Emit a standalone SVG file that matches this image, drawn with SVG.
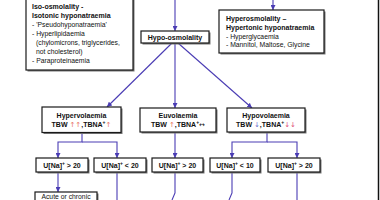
<svg xmlns="http://www.w3.org/2000/svg" width="380" height="200" viewBox="0 0 380 200">
<defs>
<marker id="ah" viewBox="0 0 10 10" refX="10" refY="5" markerWidth="5" markerHeight="5" orient="auto" markerUnits="userSpaceOnUse"><path d="M0,0 L10,5 L0,10 z" fill="#4a3cb4"/></marker>
</defs>
<style>
.box{fill:#fff;stroke:#1a1a1a;stroke-width:1.2}
.sh{fill:#777}
.b{font-family:"Liberation Sans",Arial,sans-serif;font-size:7px;font-weight:bold;fill:#111}
.r{font-family:"Liberation Sans",Arial,sans-serif;font-size:6.8px;fill:#111}
.m{text-anchor:middle}
.c{stroke:#4a3cb4;stroke-width:1.1;fill:none}
.ar{font-family:"DejaVu Sans",sans-serif;font-weight:normal;font-size:7px}
.up{fill:#e8705a}
.dn{fill:#6a72d0}
.dd{fill:#e0507a}
.sup{font-size:5px}
</style>
<rect width="380" height="200" fill="#fff"/>
<line x1="378.5" y1="0" x2="378.5" y2="200" stroke="#111" stroke-width="1.5"/>

<g id="connectors">
<path class="c" d="M175,0 V31" marker-end="url(#ah)"/>
<path class="c" d="M273,0 V10" marker-end="url(#ah)"/>
<path class="c" d="M172,43 L107,107" marker-end="url(#ah)"/>
<path class="c" d="M175,43 V108" marker-end="url(#ah)"/>
<path class="c" d="M178,43 L252,108" marker-end="url(#ah)"/>
<path class="c" d="M82,133 V142 H58 V158" marker-end="url(#ah)"/>
<path class="c" d="M82,142 H117 V158" marker-end="url(#ah)"/>
<path class="c" d="M175,132 V158" marker-end="url(#ah)"/>
<path class="c" d="M267,132 V142 H232 V158" marker-end="url(#ah)"/>
<path class="c" d="M267,142 H297 V158" marker-end="url(#ah)"/>
<path class="c" d="M58,172 V192" marker-end="url(#ah)"/>
<path class="c" d="M117,172 V200"/>
<path class="c" d="M175,172 V193 L172,200"/>
<path class="c" d="M232,172 V193 L229,200"/>
<path class="c" d="M297,172 V200"/>
</g>

<g id="iso">
<rect class="sh" x="27.5" y="-2" width="107" height="73.5"/>
<rect class="box" x="26" y="-3" width="107" height="73"/>
<text class="b" x="32" y="9.2">Iso-osmolality -</text>
<text class="b" x="32" y="18.2">Isotonic hyponatraemia</text>
<text class="r" x="32" y="27">- 'Pseudohyponatraemia'</text>
<text class="r" x="32" y="36">- Hyperlipidaemia</text>
<text class="r" x="36" y="45">(chylomicrons, triglycerides,</text>
<text class="r" x="36" y="54">not cholesterol)</text>
<text class="r" x="32" y="63">- Paraproteinaemia</text>
</g>

<g id="hypo-osm">
<rect class="sh" x="142.5" y="32.5" width="68" height="12"/>
<rect class="box" x="141" y="31" width="68" height="12"/>
<text class="b m" x="175" y="39.7">Hypo-osmolality</text>
</g>

<g id="hyperosm">
<rect class="sh" x="220.5" y="11.5" width="105" height="43"/>
<rect class="box" x="219" y="10" width="105" height="43"/>
<text class="b" x="226" y="21">Hyperosmolality –</text>
<text class="b" x="226" y="30">Hypertonic hyponatraemia</text>
<text class="r" x="226" y="38.5">- Hyperglycaemia</text>
<text class="r" x="226" y="47">- Mannitol, Maltose, Glycine</text>
</g>

<g id="hypervol">
<rect class="sh" x="43.5" y="108.5" width="79" height="25.5"/>
<rect class="box" x="42" y="107" width="79" height="25.5"/>
<text class="b m" x="81.5" y="117.5">Hypervolaemia</text>
<text class="b m" x="81.5" y="126.5">TBW <tspan class="ar up">↑↑</tspan>,TBNA<tspan class="sup" dy="-2.5">+</tspan><tspan class="ar up" dy="2.5">↑</tspan></text>
</g>

<g id="euvol">
<rect class="sh" x="141.5" y="109.5" width="76" height="24"/>
<rect class="box" x="140" y="108" width="76" height="24"/>
<text class="b m" x="178" y="117.5">Euvolaemia</text>
<text class="b m" x="178" y="126.5">TBW <tspan class="ar up">↑</tspan>,TBNA<tspan class="sup" dy="-2.5">+</tspan><tspan class="ar" dy="2.5">↔</tspan></text>
</g>

<g id="hypovol">
<rect class="sh" x="228.5" y="109.5" width="78" height="24"/>
<rect class="box" x="227" y="108" width="78" height="24"/>
<text class="b m" x="266" y="117.5">Hypovolaemia</text>
<text class="b m" x="266" y="126.5">TBW <tspan class="ar dn">↓</tspan>,TBNA<tspan class="sup" dy="-2.5">+</tspan><tspan class="ar dd" dy="2.5">↓↓</tspan></text>
</g>

<g id="u1">
<rect class="sh" x="37.5" y="159.5" width="52" height="14"/>
<rect class="box" x="36" y="158" width="52" height="14"/>
<text class="b m" x="62" y="167.5">U[Na]<tspan class="sup" dy="-2.5">+</tspan><tspan dy="2.5"> &gt; 20</tspan></text>
</g>
<g id="u2">
<rect class="sh" x="95.5" y="159.5" width="52" height="14"/>
<rect class="box" x="94" y="158" width="52" height="14"/>
<text class="b m" x="120" y="167.5">U[Na]<tspan class="sup" dy="-2.5">+</tspan><tspan dy="2.5"> &lt; 20</tspan></text>
</g>
<g id="u3">
<rect class="sh" x="153.5" y="159.5" width="51" height="14"/>
<rect class="box" x="152" y="158" width="51" height="14"/>
<text class="b m" x="177.5" y="167.5">U[Na]<tspan class="sup" dy="-2.5">+</tspan><tspan dy="2.5"> &gt; 20</tspan></text>
</g>
<g id="u4">
<rect class="sh" x="211.5" y="159.5" width="50" height="14"/>
<rect class="box" x="210" y="158" width="50" height="14"/>
<text class="b m" x="235" y="167.5">U[Na]<tspan class="sup" dy="-2.5">+</tspan><tspan dy="2.5"> &lt; 10</tspan></text>
</g>
<g id="u5">
<rect class="sh" x="269.5" y="159.5" width="52" height="14"/>
<rect class="box" x="268" y="158" width="52" height="14"/>
<text class="b m" x="294" y="167.5">U[Na]<tspan class="sup" dy="-2.5">+</tspan><tspan dy="2.5"> &gt; 20</tspan></text>
</g>

<g id="acute">
<rect class="sh" x="36.5" y="193.5" width="62" height="14"/>
<rect class="box" x="35" y="192" width="62" height="14"/>
<text class="r m" x="66" y="199.3" font-size="6.5">Acute or chronic</text>
</g>
</svg>
